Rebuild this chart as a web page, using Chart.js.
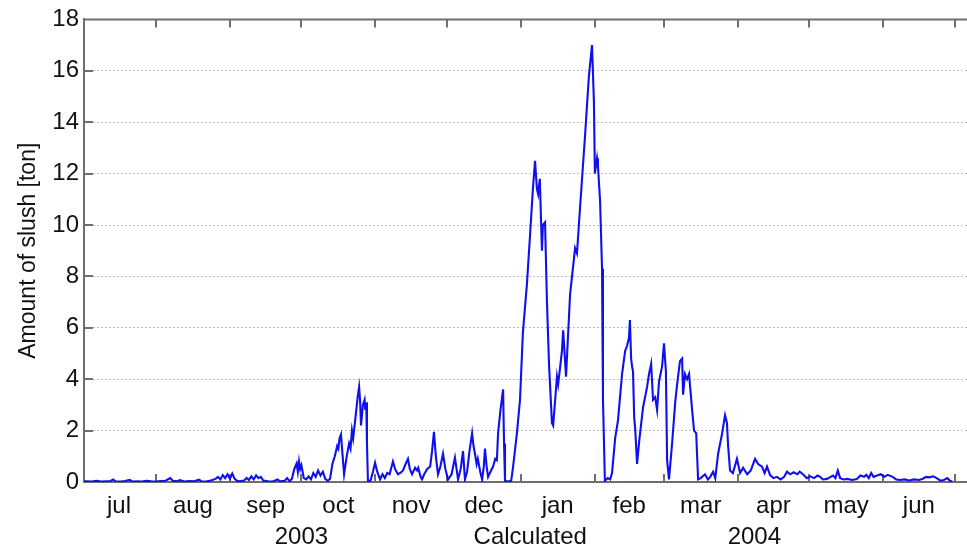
<!DOCTYPE html>
<html>
<head>
<meta charset="utf-8">
<script src="https://cdn.jsdelivr.net/npm/chart.js@4.4.0/dist/chart.umd.min.js"></script>
<style>
  html, body { margin: 0; padding: 0; background: #fff; }
  #wrap { width: 967px; height: 548px; }
</style>
</head>
<body>
<div id="wrap"><canvas id="chart" width="967" height="548"></canvas></div>
<script>
// days counted from 1 Jul 2003
const monthNames = ['jul', 'aug', 'sep', 'oct', 'nov', 'dec', 'jan', 'feb', 'mar', 'apr', 'may', 'jun'];
const monthStarts = [0, 31, 62, 92, 123, 153, 184, 215, 244, 275, 305, 336, 366];
const yearLabels = ['2003', 'Calculated', '2004'];
const yearDays = [92, 188, 282];
const yTicks = [0, 2, 4, 6, 8, 10, 12, 14, 16, 18];

// slush amount (day, ton)
const slushDays = [
  0, 2, 4, 6, 8, 10, 12, 13, 14, 16, 18, 20, 21, 23, 25, 27, 29, 31, 33, 35,
  37, 38, 40, 41, 43, 45, 47, 49, 50, 52, 54, 56, 57, 58, 59, 60, 61, 62, 63, 64,
  65, 66, 68, 69, 70, 71, 72, 73, 74, 75, 76, 78, 80, 82, 83, 85, 86, 87, 88, 89,
  90, 90.5, 91, 91.5, 92, 93, 94, 95, 96, 97, 98, 99, 100, 101, 102, 103, 104,
  105, 106, 107, 107.5, 108, 108.6, 109.3, 109.9, 111, 112, 112.6, 113.2, 113.7, 114.9,
  115.6, 116.2, 116.6, 117, 117.8, 118.5, 118.8, 119.2, 119.5, 119.9,
  121, 122, 122.9, 123.8, 125, 126, 127, 128, 129, 130.4, 131.3, 132.5, 133.5, 134.6,
  135.7, 136.7, 137.5, 138.4, 139.7, 140.5, 141, 142, 142.6, 143.5, 144.7, 146, 146.8,
  147.6, 148.4, 149.3, 150.3, 151.4, 152.4, 153.5, 155, 156.4, 157.1, 157.7, 158.8,
  159.8, 160.6, 161.5, 162.5, 163.6, 164.2, 164.8, 165.5, 166, 167, 167.8, 168.5, 169,
  169.7, 170.3, 171.3, 172.4, 173.3, 174, 174.5, 175.5, 176.6, 177, 177.4, 178.5, 180,
  180.8, 182.4, 183.7, 184.9, 186.6, 187.9, 189.1, 190, 190.8, 191.3, 192, 192.9, 193.3,
  194.2, 195, 195.9, 197.1, 197.6, 199.2, 199.7, 201.3, 201.8, 203, 204.7, 206.8, 207.6,
  208.9, 211, 212.6, 213.9, 214.7, 215.1, 216, 216.4, 217.3, 218.1, 218.5, 219.3,
  220.5, 221.5, 222.3, 223.6, 224.8, 226.5, 227.8, 228.6, 229.4, 229.8, 230.3, 230.7,
  231.1, 231.6, 232, 232.8, 233.7, 235.3, 237, 237.8, 238.7, 239.5, 240.4, 241.2, 242,
  243.3, 244.1, 244.9, 245.4, 246.2, 247.5, 248.8, 249.6, 250.8, 251.7, 252.1, 252.9,
  253.8, 254.6, 255.9, 256.7, 257.6, 258.4, 259.5, 261.3, 262.5, 263.5, 264.7, 265.6,
  266.8, 268.5, 269.7, 270.5, 271, 271.8, 273, 274.7, 276, 277.3, 279, 280.5, 282.3,
  283.6, 285.2, 286.3, 287.3, 288.6, 290, 291.5, 293, 294.5, 295.7, 297, 298.5, 300,
  301, 302.4, 304, 305.5, 307, 308.5, 309.6, 310.8, 312.5, 314, 315, 316, 317, 318,
  319.5, 321, 323, 325, 326.5, 328, 329, 330, 331, 332, 333.5, 335, 336.5, 338, 340,
  341.5, 343, 345, 347, 349, 351, 352.5, 354, 355.5, 357, 358.5, 360, 361.5, 363, 364, 365
];
const slushTons = [
  0.02, 0.03, 0.02, 0.05, 0.02, 0.03, 0.04, 0.1, 0.03, 0.02, 0.04, 0.08, 0.02, 0.03, 0.02, 0.05, 0.03, 0.02, 0.04, 0.05,
  0.15, 0.05, 0.03, 0.07, 0.02, 0.04, 0.03, 0.09, 0.03, 0.02, 0.06, 0.12, 0.2, 0.1, 0.27, 0.15, 0.3, 0.12, 0.33, 0.12,
  0.05, 0.03, 0.06, 0.16, 0.08, 0.22, 0.1, 0.26, 0.15, 0.2, 0.06, 0.03, 0.02, 0.1, 0.03, 0.05, 0.15, 0.03, 0.12, 0.5,
  0.72, 0.4, 0.8, 0.5, 0.65, 0.15, 0.1, 0.22, 0.1, 0.35, 0.2, 0.45, 0.25, 0.4, 0.12, 0.05, 0.12,
  0.7, 1.0, 1.4, 1.3, 1.7, 1.85, 1.0, 0.3, 1.0, 1.5, 1.3, 2.0, 1.7, 2.7,
  3.3, 3.7, 3.2, 2.2, 3.0, 3.2, 2.8, 3.1, 1.5, 0.05,
  0.05, 0.4, 0.75, 0.4, 0.1, 0.3, 0.15, 0.35, 0.3, 0.8, 0.5, 0.3, 0.35, 0.45,
  0.7, 0.9, 0.5, 0.3, 0.55, 0.45, 0.55, 0.2, 0.1, 0.3, 0.5, 0.6, 1.2,
  1.95, 1.0, 0.3, 0.6, 1.1, 0.5, 0.1, 0.3, 0.95, 0.5, 0.1, 0.5,
  1.2, 0.1, 0.4, 1.2, 1.9, 1.4, 1.1, 0.7, 0.9, 0.4, 0.1, 0.6, 1.3,
  0.6, 0.2, 0.4, 0.6, 0.9, 0.85, 1.9, 2.8, 3.6, 1.5, 0.05, 0.02, 0.05,
  0.6, 1.9, 3.2, 5.8, 7.7, 9.6, 11.4, 12.5, 11.4, 11.2, 11.8, 9.0, 10.0,
  10.1, 7.0, 4.5, 2.3, 2.2, 4.1, 3.8, 5.1, 5.9, 4.1, 7.3, 9.1, 8.9,
  10.7, 13.5, 15.8, 17.0, 14.8, 12.0, 12.6, 12.3, 10.9, 8.3, 3.2, 0.05,
  0.15, 0.1, 0.35, 1.7, 2.4, 4.2, 5.1, 5.3, 5.6, 6.3, 4.8, 4.5,
  4.3, 2.5, 2.1, 0.7, 1.6, 2.9, 3.7, 4.2, 4.6, 3.2, 3.3, 2.8, 3.9,
  4.5, 5.4, 4.3, 0.85, 0.1, 1.5, 3.1, 3.8, 4.7, 4.8, 3.4, 4.2,
  4.0, 4.2, 2.8, 2.0, 1.9, 0.1, 0.15, 0.3, 0.1, 0.2, 0.4, 0.15,
  1.1, 1.9, 2.6, 2.3, 1.4, 0.45, 0.35, 0.9, 0.35, 0.55, 0.3, 0.45, 0.9,
  0.7, 0.6, 0.35, 0.6, 0.27, 0.15, 0.2, 0.1, 0.2, 0.4, 0.3, 0.38, 0.3,
  0.4, 0.3, 0.15, 0.22, 0.15, 0.25, 0.2, 0.1, 0.12, 0.2, 0.25, 0.15, 0.45, 0.15,
  0.1, 0.12, 0.08, 0.12, 0.25, 0.2, 0.28, 0.15, 0.35, 0.2, 0.25, 0.3, 0.2, 0.28, 0.2,
  0.1, 0.08, 0.1, 0.06, 0.1, 0.08, 0.12, 0.2, 0.18, 0.22, 0.15, 0.05, 0.08, 0.15, 0.05, 0.02
];

const axisColor = '#6e6e6e';
const textColor = '#111';
const fontFamily = '"Liberation Sans", Arial, sans-serif';

const points = slushDays.map((d, i) => ({ x: d, y: slushTons[i] }));
const monthMids = monthNames.map((m, i) => (monthStarts[i] + monthStarts[i + 1]) / 2);

// top border and inward tick marks like the original plot box
const boxTicks = {
  id: 'boxTicks',
  beforeDatasetsDraw(chart) {
    const { ctx, chartArea: a, scales } = chart;
    ctx.save();
    ctx.strokeStyle = axisColor;
    ctx.lineWidth = 2;
    ctx.beginPath();
    ctx.moveTo(a.left - 1, a.top);
    ctx.lineTo(a.right, a.top);
    monthStarts.forEach(d => {
      const px = Math.round(scales.x.getPixelForValue(d));
      if (px <= a.left + 2 || px >= a.right) return;
      ctx.moveTo(px, a.top);
      ctx.lineTo(px, a.top + 8);
      ctx.moveTo(px, a.bottom);
      ctx.lineTo(px, a.bottom - 8);
    });
    yTicks.forEach(v => {
      if (v === 0 || v === 18) return;
      const py = Math.round(scales.y.getPixelForValue(v));
      ctx.moveTo(a.left, py);
      ctx.lineTo(a.left + 9, py);
    });
    ctx.stroke();
    ctx.restore();
  }
};

new Chart(document.getElementById('chart').getContext('2d'), {
  type: 'line',
  data: {
    datasets: [{
      data: points,
      borderColor: '#1010ee',
      borderWidth: 2.1,
      pointRadius: 0,
      tension: 0,
      fill: false
    }]
  },
  options: {
    responsive: false,
    animation: false,
    layout: { padding: { top: 17, left: 0, right: 0, bottom: 0 } },
    plugins: { legend: { display: false }, tooltip: { enabled: false } },
    scales: {
      x: {
        type: 'linear',
        position: 'bottom',
        min: 0.8,
        max: 371.2,
        afterBuildTicks: scale => { scale.ticks = monthMids.map(v => ({ value: v })); },
        afterFit: scale => { scale.height = 38; },
        grid: { display: false, drawTicks: false },
        border: { display: true, color: axisColor, width: 2 },
        ticks: {
          autoSkip: false,
          maxRotation: 0,
          padding: 10,
          color: textColor,
          font: { family: fontFamily, size: 24 },
          callback: (v, i) => monthNames[i]
        }
      },
      x2: {
        type: 'linear',
        position: 'bottom',
        min: 0.8,
        max: 371.2,
        afterBuildTicks: scale => { scale.ticks = yearDays.map(v => ({ value: v })); },
        afterFit: scale => { scale.height = 28; },
        grid: { display: false, drawTicks: false },
        border: { display: false },
        ticks: {
          autoSkip: false,
          maxRotation: 0,
          padding: 3,
          color: textColor,
          font: { family: fontFamily, size: 24 },
          callback: (v, i) => yearLabels[i]
        }
      },
      y: {
        min: 0,
        max: 18,
        afterBuildTicks: scale => { scale.ticks = yTicks.map(v => ({ value: v })); },
        afterFit: scale => { scale.width = 84; },
        grid: {
          drawTicks: false,
          lineWidth: 1,
          color: c => (c.tick && (c.tick.value === 0 || c.tick.value === 18)) ? 'rgba(0,0,0,0)' : '#bcbcbc'
        },
        border: { display: true, color: axisColor, width: 2, dash: [2, 2] },
        ticks: {
          padding: 5,
          color: textColor,
          font: { family: fontFamily, size: 24 }
        },
        title: {
          display: true,
          text: 'Amount of slush [ton]',
          color: textColor,
          font: { family: fontFamily, size: 23 },
          padding: { top: 15, bottom: 0 }
        }
      }
    }
  },
  plugins: [boxTicks]
});
</script>
</body>
</html>
